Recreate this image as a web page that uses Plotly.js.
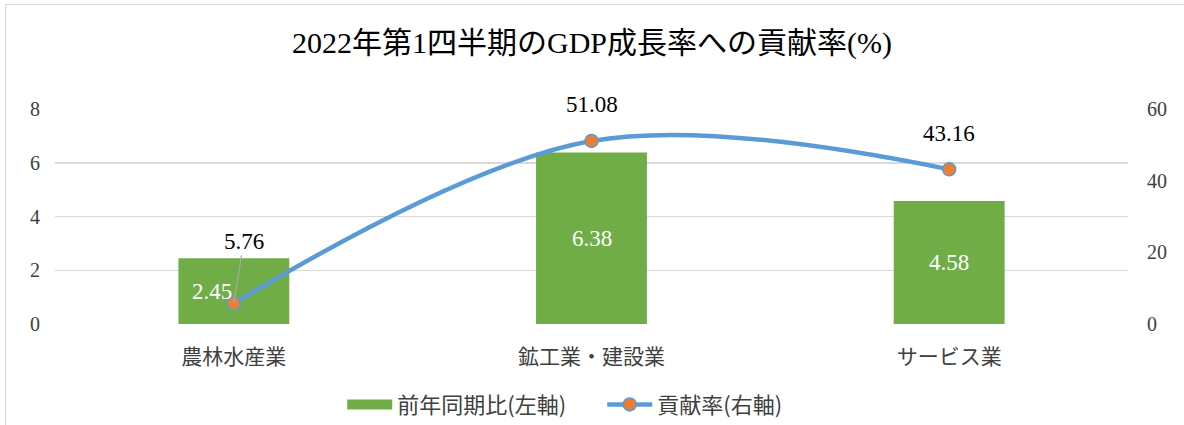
<!DOCTYPE html>
<html><head><meta charset="utf-8">
<script src="https://cdn.plot.ly/plotly-3.0.1.min.js"></script>
<style>
html,body{margin:0;padding:0;background:#fff;}
#frame{position:absolute;left:5px;top:4px;width:1200px;height:450px;border:1px solid #d9d9d9;}
#chart{position:absolute;left:0;top:0;width:1184px;height:425px;}
</style></head>
<body><div id="frame"></div><div id="chart"></div>
<script>
const categories = ['農林水産業', '鉱工業・建設業', 'サービス業'];
const yoyGrowth = [2.45, 6.38, 4.58];
const contribution = [5.76, 51.08, 43.16];
const leftTicks = [0, 2, 4, 6, 8];
const rightTicks = [0, 20, 40, 60];

const serif = '"Liberation Serif", "Noto Sans CJK JP", serif';
const jp = '"Noto Sans CJK JP", "Liberation Serif", sans-serif';

const bars = {
  type: 'bar', name: '前年同期比(左軸)', x: categories, y: yoyGrowth,
  marker: {color: '#70AD47'}, yaxis: 'y', hoverinfo: 'none', showlegend: false
};
const barLegend = {
  type: 'scatter', mode: 'lines', name: '前年同期比(左軸)', x: [null], y: [null],
  line: {color: '#70AD47', width: 12}, yaxis: 'y', hoverinfo: 'none'
};
const line = {
  type: 'scatter', mode: 'lines+markers', name: '貢献率(右軸)', x: categories, y: contribution,
  yaxis: 'y2', line: {color: '#5B9BD5', width: 4.5, shape: 'spline', smoothing: 1},
  marker: {color: '#ED7D31', size: 13, line: {color: '#5B9BD5', width: 1.5}}, hoverinfo: 'none'
};

const annotations = [];
yoyGrowth.forEach((v, i) => {
  annotations.push({x: categories[i], y: v / 2, xref: 'x', yref: 'y', text: v.toFixed(2),
    showarrow: false, xshift: i === 0 ? -22 : 0,
    font: {family: serif, size: 23, color: '#ffffff'}});
});
contribution.forEach((v, i) => {
  if (i === 0) {
    annotations.push({x: categories[i], y: v, xref: 'x', yref: 'y2', text: v.toFixed(2),
      showarrow: true, arrowhead: 0, arrowwidth: 1.2, arrowcolor: '#a6a6a6', ax: 10, ay: -62,
      standoff: 0, font: {family: serif, size: 23, color: '#000000'}});
  } else {
    annotations.push({x: categories[i], y: v, xref: 'x', yref: 'y2', text: v.toFixed(2),
      showarrow: false, yshift: 36, font: {family: serif, size: 23, color: '#000000'}});
  }
});

const layout = {
  width: 1184, height: 425,
  margin: {l: 55, r: 56, t: 109, b: 101, autoexpand: false},
  paper_bgcolor: 'rgba(0,0,0,0)', plot_bgcolor: '#ffffff',
  title: {text: '2022年第1四半期のGDP成長率への貢献率(%)', x: 0.5, xanchor: 'center', y: 0.9, yanchor: 'middle',
    font: {family: serif, size: 30, color: '#000000'}},
  bargap: 0.69,
  showlegend: true,
  legend: {orientation: 'h', x: 0.51, xanchor: 'center', y: -0.375, yanchor: 'middle',
    font: {family: jp, size: 22, color: '#404040'}, itemwidth: 45, traceorder: 'normal',
    entrywidth: 200, entrywidthmode: 'pixels'},
  xaxis: {type: 'category', showgrid: false, showline: false, ticks: '', zeroline: false, automargin: false,
    tickfont: {family: jp, size: 21, color: '#404040'}, ticklabelstandoff: 18},
  yaxis: {range: [0, 8], tickvals: leftTicks, showgrid: true, gridcolor: '#d9d9d9', gridwidth: 1.5,
    zeroline: false, showline: false, ticks: '', tickfont: {family: serif, size: 20, color: '#404040'},
    ticklabelstandoff: 14, automargin: false},
  yaxis2: {range: [0, 60], tickvals: rightTicks, overlaying: 'y', side: 'right', showgrid: false,
    zeroline: false, showline: false, ticks: '', tickfont: {family: serif, size: 20, color: '#404040'},
    ticklabelstandoff: 18, automargin: false},
  annotations: annotations
};

Plotly.newPlot('chart', [bars, barLegend, line], layout, {displayModeBar: false, staticPlot: true});
</script></body></html>
